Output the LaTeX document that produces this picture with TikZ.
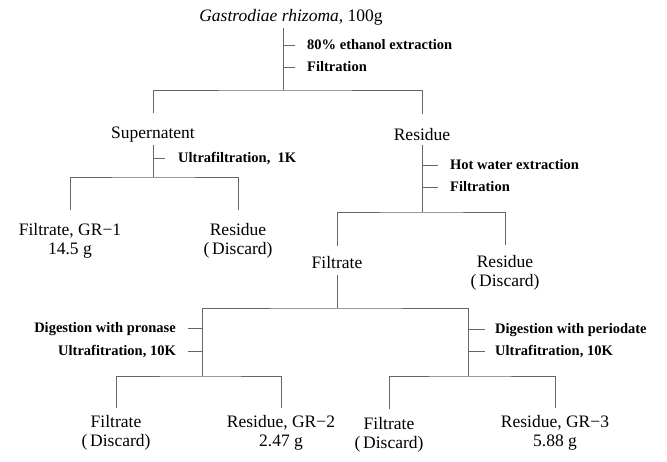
\documentclass[tikz,border=0pt]{standalone}
\usepackage{fontspec}
\setmainfont{Liberation Serif}
\begin{document}
\begin{tikzpicture}[x=1pt,y=-1pt,
  ln/.style={draw=black!60, line width=0.7pt},
  big/.style={inner sep=0pt, anchor=north, align=center, font=\fontsize{17.5}{19}\selectfont},
  lab/.style={inner sep=0pt, text height=9pt, text depth=0pt, font=\bfseries\fontsize{14.5}{16}\selectfont},
]
\useasboundingbox (0,0) rectangle (667,461);
% top
\node[big] (title) at (291,9) {\textit{Gastrodiae rhizoma}, 100g};
\coordinate (c1) at (283,90);
\coordinate (t1) at (283,45);
\coordinate (t2) at (283,67);
\node[lab, anchor=west] (l1) at (307,45) {80\% ethanol extraction};
\node[lab, anchor=west] (l2) at (307,67) {Filtration};
\draw[ln, shorten <=3pt] (title.south -| c1) -- (c1);
\draw[ln, shorten >=12pt] (t1) -- (l1.west);
\draw[ln, shorten >=12pt] (t2) -- (l2.west);
% level 1
\node[big] (sup) at (153,127) {Supernatent};
\node[big] (res1) at (422,128) {Residue};
\draw[ln, shorten <=14pt, shorten >=14pt] (sup.north) |- (c1) -| (res1.north);
% supernatent branch
\coordinate (c2) at (153,177);
\coordinate (t3) at (153,158);
\node[lab, anchor=west] (l3) at (178,158) {Ultrafiltration,\ \ 1K};
\draw[ln, shorten <=2pt] (sup.south) -- (c2);
\draw[ln, shorten >=13pt] (t3) -- (l3.west);
\node[big] (f1) at (70,223) {Filtrate, GR−1\\14.5 g};
\node[big] (r1) at (238,223) {Residue\\(\,Discard)};
\draw[ln, shorten <=13pt, shorten >=13pt] (f1.north) |- (c2) -| (r1.north);
% residue branch
\coordinate (c3) at (422,212);
\coordinate (t4) at (422,165);
\coordinate (t5) at (422,187);
\node[lab, anchor=west] (l4) at (450,165) {Hot water extraction};
\node[lab, anchor=west] (l5) at (450,187) {Filtration};
\draw[ln, shorten <=4pt] (res1.south) -- (c3);
\draw[ln, shorten >=12pt] (t4) -- (l4.west);
\draw[ln, shorten >=12pt] (t5) -- (l5.west);
\node[big] (filt) at (337,256) {Filtrate};
\node[big] (r2) at (505,255) {Residue\\(\,Discard)};
\draw[ln, shorten <=10pt, shorten >=10pt] (filt.north) |- (c3) -| (r2.north);
% filtrate branch
\coordinate (c4) at (337,308);
\coordinate (c5) at (202,376);
\coordinate (c6) at (468,376);
\draw[ln, shorten <=6pt] (filt.south) -- (c4);
\draw[ln] (c5) |- (c4) -| (c6);
\coordinate (t6) at (202,328);
\coordinate (t7) at (202,351);
\node[lab, anchor=east] (l6) at (176,328) {Digestion with pronase};
\node[lab, anchor=east] (l7) at (176,351) {Ultrafitration, 10K};
\draw[ln, shorten <=12pt] (l6.east) -- (t6);
\draw[ln, shorten <=12pt] (l7.east) -- (t7);
\coordinate (t8) at (468,329);
\coordinate (t9) at (468,351);
\node[lab, anchor=west] (l8) at (495,329) {Digestion with periodate};
\node[lab, anchor=west] (l9) at (495,351) {Ultrafitration, 10K};
\draw[ln, shorten >=10pt] (t8) -- (l8.west);
\draw[ln, shorten >=10pt] (t9) -- (l9.west);
% bottom
\node[big] (f3) at (116,415) {Filtrate\\(\,Discard)};
\node[big] (r3) at (281,415) {Residue, GR−2\\2.47 g};
\node[big] (f4) at (389,417) {Filtrate\\(\,Discard)};
\node[big] (r4) at (555,415) {Residue, GR−3\\5.88 g};
\draw[ln, shorten <=7pt, shorten >=7pt] (f3.north) |- (c5) -| (r3.north);
\draw[ln, shorten <=8pt, shorten >=7pt] (f4.north) |- (c6) -| (r4.north);
\end{tikzpicture}
\end{document}
